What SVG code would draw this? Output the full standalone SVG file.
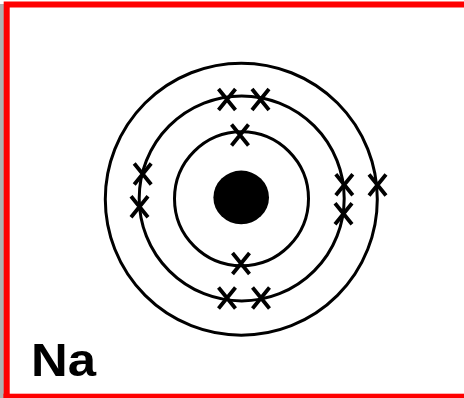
<svg xmlns="http://www.w3.org/2000/svg" width="464" height="398" viewBox="0 0 464 398">
<defs>
<style>
.shell{fill:none;stroke:#000;stroke-width:3}
.e{fill:none;stroke:#000;stroke-width:3.8;stroke-linecap:butt}
.lbl{font-family:"Liberation Sans",Arial,sans-serif;font-weight:bold;font-size:46px;fill:#000}
</style>
<path id="x" class="e" d="M-8.5,-10.5 L8.5,10.5 M8.5,-10.5 L-8.5,10.5"/>
</defs>
<rect x="0" y="0" width="464" height="398" fill="#fff"/>
<rect x="0" y="4" width="4" height="394" fill="#b0b0b0"/>
<g id="frame">
<path d="M6.7,398 L6.7,4.5 L464,4.5" fill="none" stroke="#ff0000" stroke-width="6"/>
<rect x="3.5" y="393.7" width="460.5" height="4.3" fill="#ff0000"/>
</g>
<g id="atom">
<ellipse id="nucleus" cx="241.2" cy="197.4" rx="27.8" ry="26.8" fill="#000"/>
<circle id="shell1" class="shell" cx="241.5" cy="198.7" r="67"/>
<circle id="shell2" class="shell" cx="241.7" cy="198.4" r="102.5"/>
<circle id="shell3" class="shell" cx="241.3" cy="199.2" r="136"/>
</g>
<g id="electrons">
<use href="#x" x="240" y="135"/>
<use href="#x" x="241" y="263.5"/>
<use href="#x" x="227" y="99.5"/>
<use href="#x" x="260.5" y="99.5"/>
<use href="#x" x="227" y="298"/>
<use href="#x" x="261" y="298"/>
<use href="#x" x="142.7" y="174"/>
<use href="#x" x="139.5" y="206.7"/>
<use href="#x" x="344.3" y="184.7"/>
<use href="#x" x="343.5" y="213.8"/>
<use href="#x" x="377.5" y="185"/>
</g>
<g id="label">
<text class="lbl" x="31" y="375.5" textLength="65" lengthAdjust="spacingAndGlyphs">Na</text>
</g>
</svg>
